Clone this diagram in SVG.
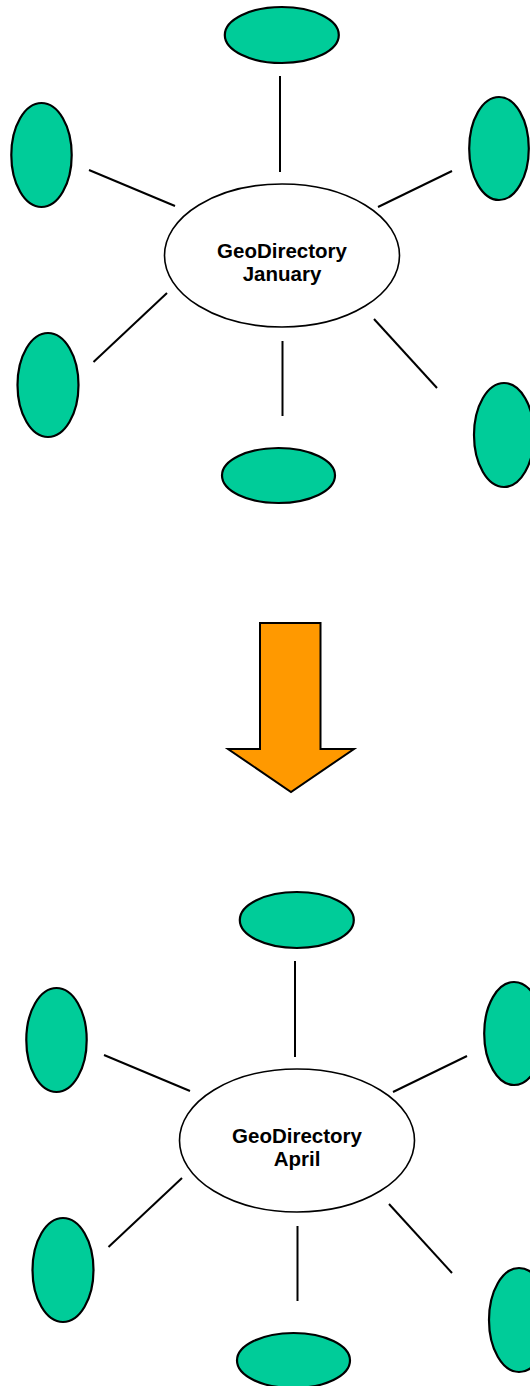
<svg xmlns="http://www.w3.org/2000/svg" width="530" height="1386" viewBox="0 0 530 1386">
<style>
.leaf{fill:#00CC99;stroke:#000;stroke-width:2.2}
.hub{fill:#fff;stroke:#000;stroke-width:1.6}
.lbl{font-family:"Liberation Sans",Arial,sans-serif;font-weight:bold;font-size:20.5px;fill:#000;text-anchor:middle}
.conn line{stroke:#000;stroke-width:2}
.arrow{fill:#FF9900;stroke:#000;stroke-width:2;stroke-linejoin:miter}
</style>
<rect width="530" height="1386" fill="#fff"/>
<g id="connectors-jan" class="conn">
<line x1="280" y1="76" x2="280" y2="172"/>
<line x1="89" y1="170" x2="175" y2="206"/>
<line x1="378" y1="207" x2="452" y2="171"/>
<line x1="93.5" y1="362" x2="167" y2="293"/>
<line x1="282.5" y1="341" x2="282.5" y2="416"/>
<line x1="374" y1="319" x2="437" y2="388"/>
</g>
<g id="hub-jan"><ellipse class="hub" cx="282" cy="255.5" rx="117.5" ry="71.5"/>
<text class="lbl" x="282" y="257.5">GeoDirectory</text><text class="lbl" x="282" y="281">January</text></g>
<g id="jan-top"><ellipse class="leaf" cx="281.8" cy="35" rx="57" ry="28"/></g>
<g id="jan-upper-left"><ellipse class="leaf" cx="41.5" cy="155" rx="30.2" ry="52"/></g>
<g id="jan-upper-right"><ellipse class="leaf" cx="499" cy="148.5" rx="29.8" ry="51.5"/></g>
<g id="jan-lower-left"><ellipse class="leaf" cx="48" cy="385" rx="30.5" ry="52"/></g>
<g id="jan-lower-right"><ellipse class="leaf" cx="504" cy="435" rx="30" ry="52"/></g>
<g id="jan-bottom"><ellipse class="leaf" cx="278.5" cy="475.5" rx="56.5" ry="27.5"/></g>
<g id="arrow"><polygon class="arrow" points="260,623 320.5,623 320.5,749 354,749 291,792 228,749 260,749"/></g>
<g id="connectors-apr" class="conn">
<line x1="295" y1="961" x2="295" y2="1057"/>
<line x1="104" y1="1055" x2="190" y2="1091"/>
<line x1="393" y1="1092" x2="467" y2="1056"/>
<line x1="108.5" y1="1247" x2="182" y2="1178"/>
<line x1="297.5" y1="1226" x2="297.5" y2="1301"/>
<line x1="389" y1="1204" x2="452" y2="1273"/>
</g>
<g id="hub-apr"><ellipse class="hub" cx="297" cy="1140.5" rx="117.5" ry="71.5"/>
<text class="lbl" x="297" y="1142.5">GeoDirectory</text><text class="lbl" x="297" y="1166">April</text></g>
<g id="apr-top"><ellipse class="leaf" cx="296.8" cy="920" rx="57" ry="28"/></g>
<g id="apr-upper-left"><ellipse class="leaf" cx="56.5" cy="1040" rx="30.2" ry="52"/></g>
<g id="apr-upper-right"><ellipse class="leaf" cx="514" cy="1033.5" rx="29.8" ry="51.5"/></g>
<g id="apr-lower-left"><ellipse class="leaf" cx="63" cy="1270" rx="30.5" ry="52"/></g>
<g id="apr-lower-right"><ellipse class="leaf" cx="519" cy="1320" rx="30" ry="52"/></g>
<g id="apr-bottom"><ellipse class="leaf" cx="293.5" cy="1360.5" rx="56.5" ry="27.5"/></g>
</svg>
